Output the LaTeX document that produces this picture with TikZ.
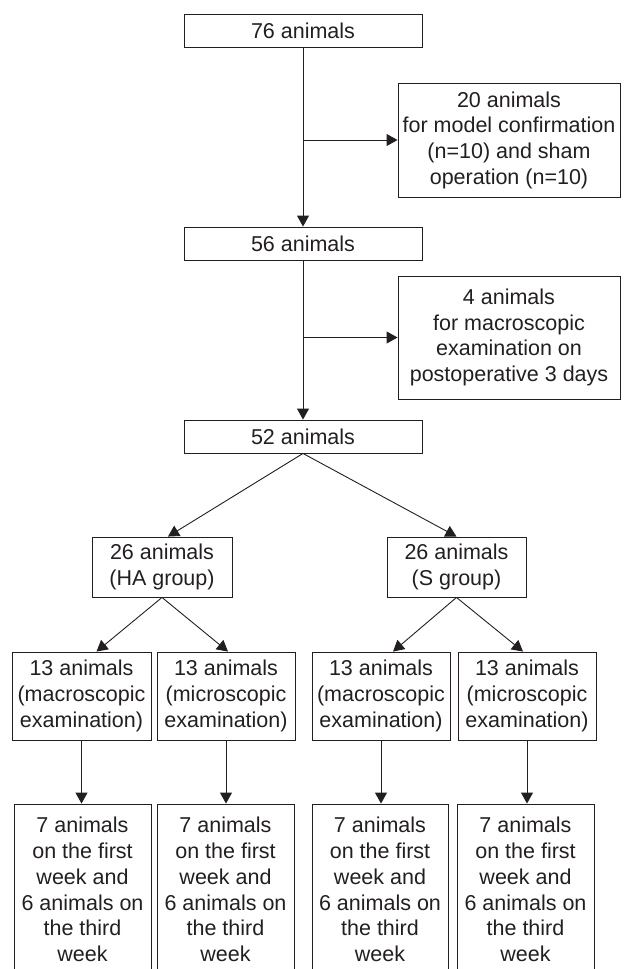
\documentclass[tikz,border=0pt]{standalone}
\usepackage{fontspec}
\setmainfont{Liberation Sans}
\usetikzlibrary{arrows.meta}
\definecolor{ink}{RGB}{35,31,32}
\tikzset{
	box/.style={draw=ink, text=ink, line width=0.9pt, align=center, inner sep=0pt, font=\fontsize{21.5}{25.7}\selectfont},
	arr/.style={draw=ink, line width=0.9pt, -{Triangle[length=11pt,width=12pt]}}
}

\begin{document}
\begin{tikzpicture}[x=1pt, y=-1pt]
			%%%%% START %%%%%
			\clip (0, 0) rectangle (626, 969);
			
			\node[box, minimum width=238, minimum height=33] (n76) at (303, 30.5) {76 animals};
			\node[box, minimum width=222, minimum height=114] (conf) at (509, 140) {20 animals\\for model confirmation\\(n=10) and sham\\operation (n=10)};
			\node[box, minimum width=238, minimum height=33] (n56) at (303, 243.5) {56 animals};
			\node[box, minimum width=222, minimum height=123] (post) at (509, 337.5) {4 animals\\for macroscopic\\examination on\\postoperative 3 days};
			\node[box, minimum width=238, minimum height=33] (n52) at (303, 436.5) {52 animals};
			
			\draw[arr] (n76.south) -- (n56.north);
			\draw[arr] (n76.south |- conf.west) -- (conf.west);
			\draw[arr] (n56.south) -- (n52.north);
			\draw[arr] (n56.south |- post.west) -- (post.west);
			
			\node[box, minimum width=140, minimum height=60] (ha) at (162, 567) {26 animals\\(HA group)};
			\node[box, minimum width=139, minimum height=60] (sg) at (456.5, 567) {26 animals\\(S group)};
			
			\draw[arr] (n52.south) -- ([xshift=6]ha.north);
			\draw[arr] (n52.south) -- (sg.north);
			
			\node[box, minimum width=139, minimum height=88] (m1) at (81.5, 696) {13 animals\\(macroscopic\\examination)};
			\node[box, minimum width=138, minimum height=88] (m2) at (226, 696) {13 animals\\(microscopic\\examination)};
			\node[box, minimum width=138, minimum height=88] (m3) at (381, 696) {13 animals\\(macroscopic\\examination)};
			\node[box, minimum width=138, minimum height=88] (m4) at (527, 696) {13 animals\\(microscopic\\examination)};
			
			\draw[arr] (ha.south) -- ([xshift=15]m1.north);
			\draw[arr] (ha.south) -- ([xshift=2]m2.north);
			\draw[arr] (sg.south) -- ([xshift=12]m3.north);
			\draw[arr] (sg.south) -- ([xshift=-4]m4.north);
			
			\node[box, minimum width=137, minimum height=171] (b1) at (82.5, 889.5) {7 animals\\on the first\\week and\\6 animals on\\the third\\week};
			\node[box, minimum width=137, minimum height=171] (b2) at (225.5, 889.5) {7 animals\\on the first\\week and\\6 animals on\\the third\\week};
			\node[box, minimum width=136, minimum height=171] (b3) at (380, 889.5) {7 animals\\on the first\\week and\\6 animals on\\the third\\week};
			\node[box, minimum width=137, minimum height=171] (b4) at (525.5, 889.5) {7 animals\\on the first\\week and\\6 animals on\\the third\\week};
			
			\draw[arr] (m1.south) -- (m1.south |- b1.north);
			\draw[arr] (m2.south) -- (m2.south |- b2.north);
			\draw[arr] (m3.south) -- (m3.south |- b3.north);
			\draw[arr] (m4.south) -- (m4.south |- b4.north);
			%%%%% END %%%%%
\end{tikzpicture}
\end{document}
